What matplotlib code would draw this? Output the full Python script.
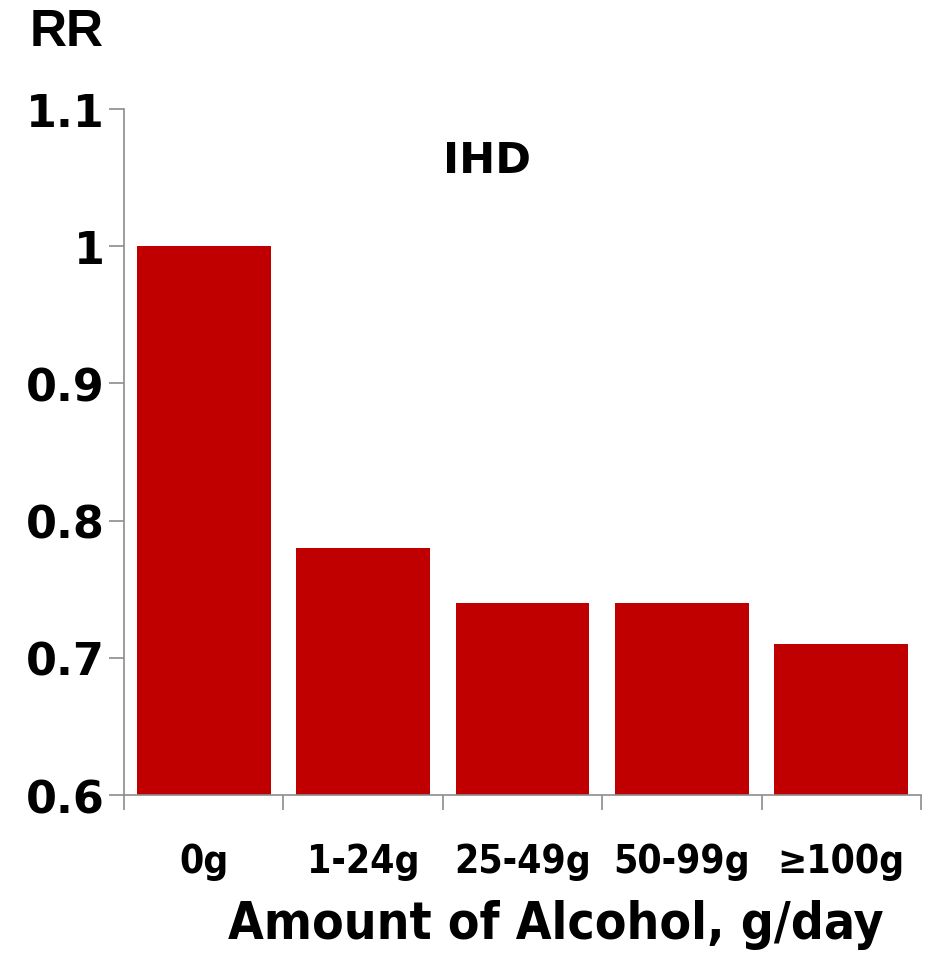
import matplotlib.pyplot as plt
import numpy as np

# relative risk of IHD by daily alcohol intake
categories = ['0g', '1-24g', '25-49g', '50-99g', '≥100g']
rr_values = [1.0, 0.78, 0.74, 0.74, 0.71]
y_ticks = [0.6, 0.7, 0.8, 0.9, 1.0, 1.1]
y_tick_labels = ['0.6', '0.7', '0.8', '0.9', '1', '1.1']

bar_color = '#C00000'
axis_grey = '#8C8C8C'

fig = plt.figure(figsize=(9.28, 9.54), dpi=100)
ax = fig.add_axes([0.1336, 0.1656, 0.8589, 0.7191])

x = np.arange(len(categories)) + 0.5
ax.bar(x, [v - 0.6 for v in rr_values], bottom=0.6, width=0.84, color=bar_color)

ax.set_xlim(0, len(categories))
ax.set_ylim(0.6, 1.1)

# y axis
ax.set_yticks(y_ticks)
ax.set_yticklabels(y_tick_labels, fontsize=32, fontweight='bold',
                   family=['DejaVu Sans'])
ax.tick_params(axis='y', length=11, width=1.2, color=axis_grey, pad=3)

# x axis: tick marks between categories, labels at category centres
ax.set_xticks(np.arange(len(categories) + 1))
ax.set_xticklabels([])
ax.tick_params(axis='x', which='major', length=11, width=1.2, color=axis_grey)
ax.set_xticks(x, minor=True)
ax.set_xticklabels(categories, minor=True, fontsize=28, fontweight='bold',
                   family=['DejaVu Sans'], fontstretch='condensed')
ax.tick_params(axis='x', which='minor', length=0, pad=34)

for side in ['top', 'right']:
    ax.spines[side].set_visible(False)
for side in ['left', 'bottom']:
    ax.spines[side].set_color(axis_grey)
    ax.spines[side].set_linewidth(1.2)

ax.set_xlabel('Amount of Alcohol, g/day', fontsize=37, fontweight='bold',
              family=['DejaVu Sans'], fontstretch='condensed', va='bottom')
ax.xaxis.set_label_coords(0.542, -0.225)

fig.text(0.032, 0.966, 'RR', fontsize=37, fontweight='bold',
         family=['Liberation Sans'], va='center', ha='left')
ax.text(0.455, 0.925, 'IHD', transform=ax.transAxes, fontsize=31,
        fontweight='bold', ha='center', va='center')

fig.savefig('out.png', dpi=100)
